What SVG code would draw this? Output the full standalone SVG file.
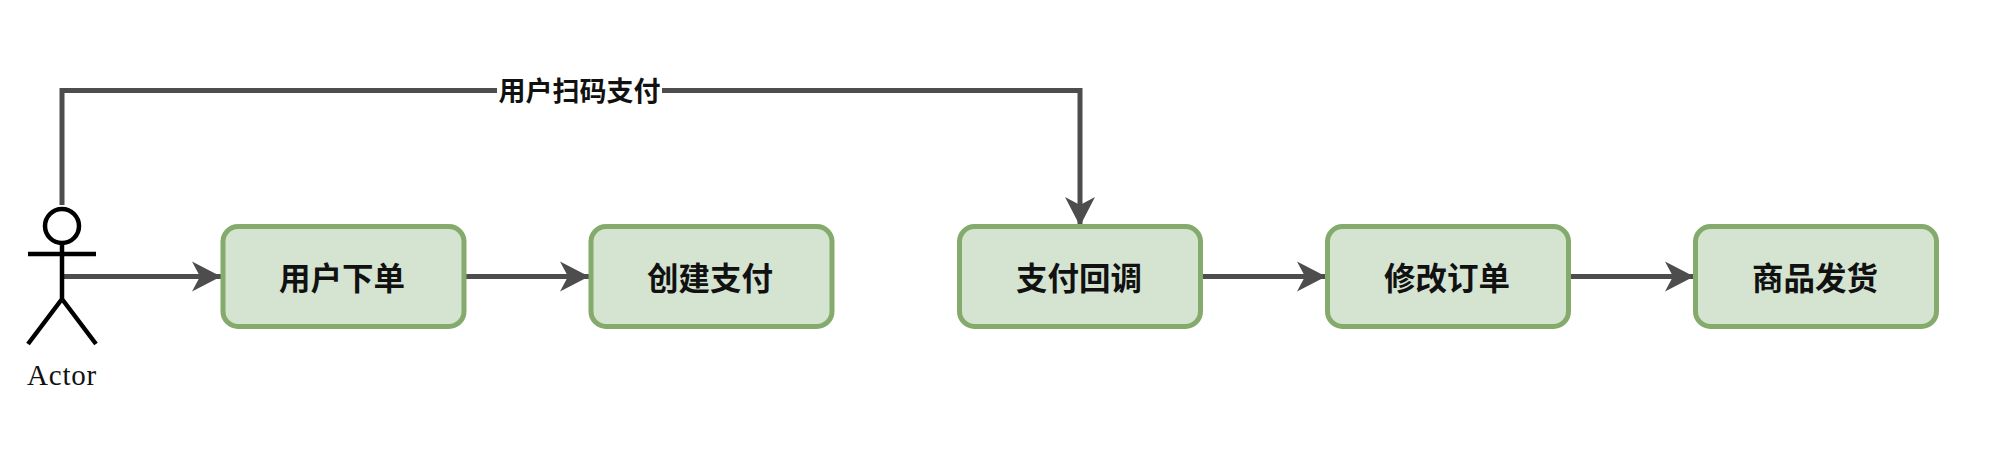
<svg xmlns="http://www.w3.org/2000/svg" width="1998" height="472" viewBox="0 0 1998 472">
<style>
.node rect{fill:#d4e4d1;stroke:#84aa6c;stroke-width:5}
.node text{font-family:"Noto Sans CJK SC",sans-serif;font-size:31.500px;font-weight:700;fill:#111;text-anchor:middle;dominant-baseline:central}
#connectors path{fill:none;stroke:#4d4d4d;stroke-width:5;stroke-linejoin:miter}
#actor *{fill:none;stroke:#000;stroke-width:4.500;stroke-linecap:butt}
#actor text{fill:#111;stroke:none;font-family:"Liberation Serif",serif;font-size:29px;letter-spacing:0.8px;text-anchor:middle}
.lbl{font-family:"Noto Sans CJK SC",sans-serif;font-size:27px;font-weight:700;fill:#111;text-anchor:middle;dominant-baseline:central}
</style>
<defs>
<marker id="arrow" markerUnits="userSpaceOnUse" markerWidth="30" markerHeight="32" refX="29" refY="16" orient="auto">
<path d="M0 1L29 16L0 31L8 16Z" fill="#4d4d4d"/>
</marker>
</defs>
<rect width="1998" height="472" fill="#fff"/>
<g id="connectors">
<path d="M62 205V90.500H1080V226" marker-end="url(#arrow)"/>
<path d="M62 276.500H221" marker-end="url(#arrow)"/>
<path d="M466 276.500H589" marker-end="url(#arrow)"/>
<path d="M1203 276.500H1326" marker-end="url(#arrow)"/>
<path d="M1571 276.500H1694" marker-end="url(#arrow)"/>
<rect x="497" y="72" width="165" height="36" fill="#fff"/>
<text class="lbl" x="579.500" y="89">用户扫码支付</text>
</g>
<g id="actor">
<circle cx="62" cy="226" r="17"/>
<path d="M62 243V299M28 254H96M62 299L28 344M62 299L96 344"/>
<text x="62" y="385">Actor</text>
</g>
<g id="n1" class="node"><rect x="223" y="226.500" width="241" height="100" rx="15"/><text x="342" y="276">用户下单</text></g>
<g id="n2" class="node"><rect x="591" y="226.500" width="241" height="100" rx="15"/><text x="710" y="276">创建支付</text></g>
<g id="n3" class="node"><rect x="959.500" y="226.500" width="241" height="100" rx="15"/><text x="1079" y="276">支付回调</text></g>
<g id="n4" class="node"><rect x="1327.500" y="226.500" width="241" height="100" rx="15"/><text x="1447" y="276">修改订单</text></g>
<g id="n5" class="node"><rect x="1695.500" y="226.500" width="241" height="100" rx="15"/><text x="1815" y="276">商品发货</text></g>
</svg>
